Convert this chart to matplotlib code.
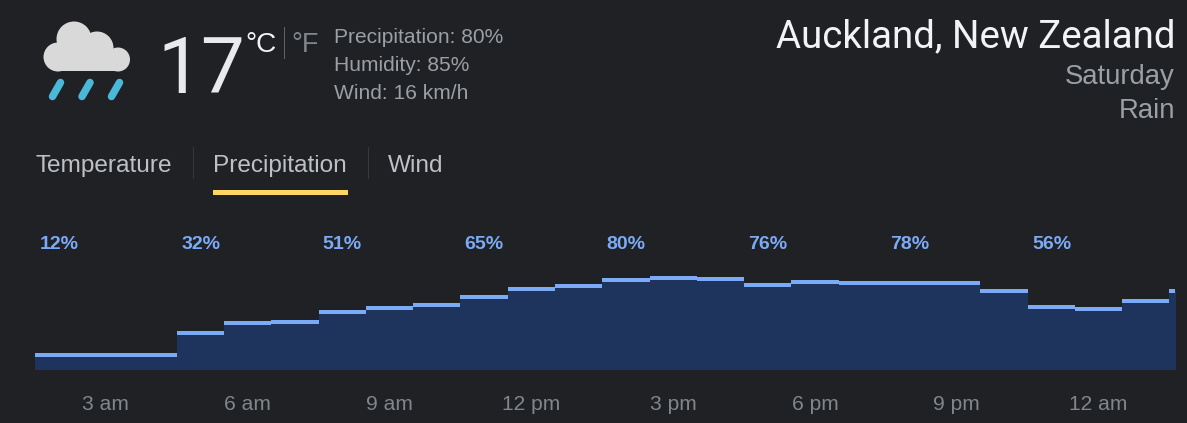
import matplotlib
matplotlib.use("Agg")
import matplotlib.pyplot as plt
import numpy as np
from matplotlib.patches import Circle, Rectangle

W, H = 1187, 423
BG = "#202124"
FILL = "#1f345c"
BLUE = "#7baaf7"

precipitation = [12, 12, 12, 32, 41, 42, 51, 55, 58, 65, 72, 75, 80, 82, 81,
                 76, 79, 78, 78, 78, 70, 56, 54, 61, 70]
label_every = 3
tick_labels = ["3 am", "6 am", "9 am", "12 pm", "3 pm", "6 pm", "9 pm", "12 am"]
tick_positions = [1.5, 4.5, 7.5, 10.5, 13.5, 16.5, 19.5, 22.5]


def px(v):
    return v * 0.72


fig = plt.figure(figsize=(W / 100, H / 100), dpi=100, facecolor=BG)

# Chart: pixel box x 35..1175, y 224..369
ax = fig.add_axes([35 / W, 1 - 369 / H, 1140 / W, 145 / H], facecolor=BG)
step = 47.27
x = np.arange(len(precipitation) + 1)
vals = np.array(precipitation, dtype=float)
ax.fill_between(x, np.r_[vals, vals[-1]], -5, step="post", color=FILL, lw=0)
ax.hlines(vals, x[:-1], x[1:], color=BLUE, lw=px(4), capstyle="butt")
ax.set_xlim(0, 1140 / step)
ax.set_ylim(-0.32, 131.16)
for s in ax.spines.values():
    s.set_visible(False)
ax.set_yticks([])
ax.set_xticks(tick_positions)
ax.set_xticklabels(tick_labels, family="Liberation Sans", fontsize=px(21), color="#80868b")
ax.tick_params(axis="x", length=0, pad=px(25.6))
for i in range(0, len(precipitation), label_every):
    ax.text(i + 0.09, 108.8, f"{precipitation[i]}%", color=BLUE, family="Liberation Sans",
            weight="bold", fontsize=px(19.5), va="baseline", ha="left", clip_on=True)

# Header overlay in pixel units
ov = fig.add_axes([0, 0, 1, 1], facecolor="none")
ov.set_xlim(0, W)
ov.set_ylim(H, 0)
ov.axis("off")


def T(x_, y_, s, size, color, ha="left", family="Liberation Sans", **kw):
    ov.text(x_, y_, s, fontsize=px(size), color=color, ha=ha, va="baseline", family=family, **kw)


# Icon
CLOUD = "#d9d9d9"
for cx, cy, r in [(74, 39, 17.5), (97, 48, 16.5), (118, 59.5, 12), (58, 57, 14.5)]:
    ov.add_patch(Circle((cx, cy), r, fc=CLOUD, ec="none"))
ov.add_patch(Rectangle((56, 50), 62, 21.5, fc=CLOUD, ec="none"))
for dx in (0, 29.5, 59):
    ov.plot([60.5 + dx, 52.5 + dx], [82.5, 96.5], color="#4ab9d9", lw=px(7.5), solid_capstyle="round")

T(157, 93, "17", 78, "#e8eaed", family="Roboto")
T(245, 52, "°C", 28, "#f1f3f4")
T(291, 52, "°F", 27, "#80868b")
ov.plot([283.5, 283.5], [27, 58], color="#5f6368", lw=px(1))
T(334, 43, "Precipitation: 80%", 21, "#9aa0a6")
T(334, 71, "Humidity: 85%", 21, "#9aa0a6")
T(334, 99, "Wind: 16 km/h", 21, "#9aa0a6")

T(36, 172, "Temperature", 24.4, "#bdc1c6")
T(213, 172, "Precipitation", 24.4, "#bdc1c6")
T(388, 172, "Wind", 24.4, "#bdc1c6")
for xd in (192.5, 367.5):
    ov.plot([xd, xd], [147, 178], color="#35383c", lw=px(1))
ov.add_patch(Rectangle((213, 190), 135, 5, fc="#fdd663", ec="none"))

T(1175, 47, "Auckland, New Zealand", 38.5, "#f1f3f4", ha="right", family="Roboto")
T(1175, 84, "Saturday", 27.5, "#9aa0a6", ha="right")
T(1175, 118, "Rain", 27.5, "#9aa0a6", ha="right")

fig.savefig("out.png", dpi=100, facecolor=BG)
